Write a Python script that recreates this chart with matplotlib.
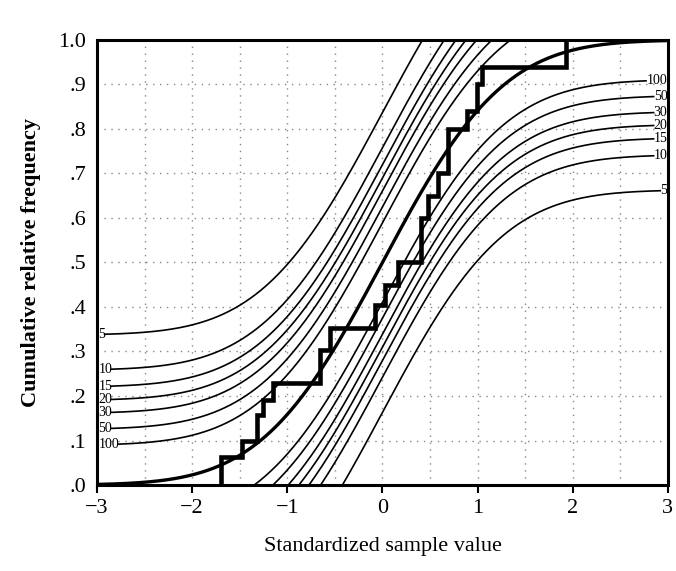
import numpy as np
import matplotlib
matplotlib.use("Agg")
import matplotlib.pyplot as plt
from math import erf, sqrt

# ---- data ----
sample_sizes = ["5", "10", "15", "20", "30", "50", "100"]
critical_d = [0.337, 0.258, 0.220, 0.190, 0.161, 0.125, 0.089]

step_x = [-1.70, -1.48, -1.32, -1.26, -1.15, -0.66, -0.55, -0.08, 0.03, 0.16,
          0.40, 0.48, 0.58, 0.69, 0.89, 0.99, 1.05, 1.93]
step_y = [0.063, 0.10, 0.157, 0.19, 0.229, 0.303, 0.353, 0.405, 0.45, 0.50,
          0.60, 0.65, 0.70, 0.80, 0.84, 0.90, 0.94, 1.00]

x_ticks = [-3, -2, -1, 0, 1, 2, 3]
x_ticklabels = ["\u22123", "\u22122", "\u22121", "0", "1", "2", "3"]
y_ticks = [0.0, 0.1, 0.2, 0.3, 0.4, 0.5, 0.6, 0.7, 0.8, 0.9, 1.0]
y_ticklabels = [".0", ".1", ".2", ".3", ".4", ".5", ".6", ".7", ".8", ".9", "1.0"]

plt.rcParams['font.family'] = ['Liberation Serif', 'DejaVu Serif']

phi = np.vectorize(lambda v: 0.5 * (1 + erf(v / sqrt(2))))

fig = plt.figure(figsize=(6.76, 5.71), dpi=100)
ax = fig.add_axes([0.1435, 0.1506, 0.8445, 0.7794])
ax.set_xlim(-3, 3)
ax.set_ylim(0, 1)

# grid
for gx in np.arange(-2.5, 3.0, 0.5):
    ax.axvline(gx, color='#888888', lw=1.0, ls=(0, (1, 4)), zorder=0)
for gy in np.arange(0.1, 1.0, 0.1):
    ax.axhline(gy, color='#888888', lw=1.0, ls=(0, (1, 4)), zorder=0)

# band curves
label_off = {1: 0.08, 2: 0.15, 3: 0.23}
for lab, d in zip(sample_sizes, critical_d):
    off = label_off[len(lab)]
    xs = np.linspace(-3 + off, 3, 600)
    up = phi(xs) + d
    mask = up <= 1.0
    ax.plot(xs[mask], up[mask], color='black', lw=1.2, zorder=2)
    ax.text(-2.985, phi(-3) + d, lab, fontsize=10, ha='left', va='center', zorder=3)
    xs2 = np.linspace(-3, 3 - off, 600)
    lo = phi(xs2) - d
    mask2 = lo >= 0.0
    ax.plot(xs2[mask2], lo[mask2], color='black', lw=1.2, zorder=2)
    ax.text(2.995, phi(3) - d, lab, fontsize=10, ha='right', va='center', zorder=3)

# normal CDF
xs = np.linspace(-3, 3, 800)
ax.plot(xs, phi(xs), color='black', lw=2.4, zorder=4)

# empirical step function
sx = [step_x[0]] + step_x
sy = [0.0] + step_y
ax.step(sx, sy, where='post', color='black', lw=3.3, zorder=5, solid_joinstyle='miter')

ax.set_xticks(x_ticks)
ax.set_xticklabels(x_ticklabels, fontsize=16)
ax.set_yticks(y_ticks)
ax.set_yticklabels(y_ticklabels, fontsize=16)
ax.tick_params(axis='x', direction='out', length=6, width=1.5, pad=4)
ax.tick_params(axis='y', length=0, pad=8)
for s in ax.spines.values():
    s.set_linewidth(2.2)

ax.set_xlabel("Standardized sample value", fontsize=16, labelpad=14)
ax.set_ylabel("Cumulative relative frequency", fontsize=16, fontweight='bold', labelpad=12)

fig.savefig("out.png", dpi=100)
